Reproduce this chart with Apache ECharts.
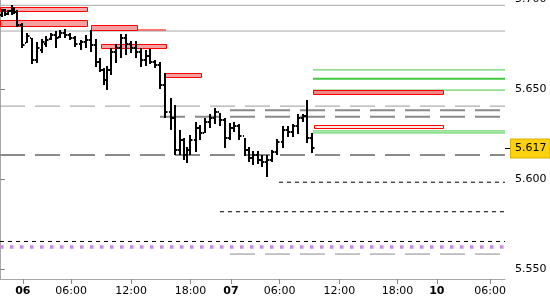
<!DOCTYPE html>
<html><head><meta charset="utf-8">
<script src="https://cdn.jsdelivr.net/npm/echarts@6/dist/echarts.min.js"></script>
<style>html,body{margin:0;padding:0;background:#fff}#c{width:550px;height:300px}</style>
</head><body><div id="c"></div>
<script>
// time in half-hour slots from chart start
const barTime = [0.3,1.0,1.6,2.3,2.8,3.4,4.4,5.4,6.4,7.4,8.4,9.2,10.2,11.2,12.0,13.0,14.0,15.0,16.2,17.2,18.2,19.2,19.9,20.7,21.4,22.2,23.2,24.2,25.2,26.2,27.2,28.2,29.2,30.0,31.0,32.0,33.0,34.2,35.0,36.0,36.8,37.4,38.0,39.1,40.0,41.0,42.0,43.0,44.0,44.9,45.9,46.8,47.7,48.9,49.7,50.6,51.6,52.4,53.4,54.4,55.4,56.6,57.6,58.6,59.6,60.5,61.4,62.4];
const barOpen = [5.6911,5.6939,5.6917,5.6933,5.6950,5.6928,5.6856,5.6756,5.6783,5.6661,5.6717,5.6750,5.6778,5.6800,5.6789,5.6811,5.6800,5.6783,5.6750,5.6761,5.6772,5.6744,5.6650,5.6606,5.6550,5.6606,5.6706,5.6728,5.6783,5.6750,5.6728,5.6706,5.6661,5.6683,5.6650,5.6633,5.6522,5.6372,5.6339,5.6161,5.6217,5.6133,5.6161,5.6217,5.6283,5.6256,5.6317,5.6339,5.6372,5.6328,5.6228,5.6283,5.6294,5.6239,5.6161,5.6117,5.6133,5.6106,5.6094,5.6106,5.6150,5.6206,5.6272,5.6261,5.6294,5.6339,5.6350,5.6228];
const barHigh = [5.6944,5.6944,5.6939,5.6967,5.6950,5.6939,5.6867,5.6811,5.6783,5.6761,5.6778,5.6794,5.6811,5.6822,5.6828,5.6833,5.6811,5.6794,5.6772,5.6800,5.6828,5.6778,5.6672,5.6617,5.6628,5.6728,5.6750,5.6806,5.6806,5.6767,5.6767,5.6728,5.6717,5.6722,5.6661,5.6650,5.6589,5.6450,5.6411,5.6272,5.6228,5.6178,5.6244,5.6317,5.6300,5.6339,5.6361,5.6394,5.6367,5.6339,5.6311,5.6317,5.6306,5.6228,5.6178,5.6156,5.6156,5.6133,5.6133,5.6161,5.6222,5.6294,5.6294,5.6306,5.6361,5.6361,5.6439,5.6256];
const barLow = [5.6900,5.6906,5.6911,5.6911,5.6917,5.6844,5.6728,5.6756,5.6639,5.6644,5.6700,5.6733,5.6772,5.6728,5.6783,5.6783,5.6772,5.6733,5.6717,5.6728,5.6706,5.6622,5.6594,5.6522,5.6494,5.6578,5.6644,5.6672,5.6689,5.6700,5.6672,5.6622,5.6628,5.6639,5.6617,5.6500,5.6339,5.6272,5.6133,5.6133,5.6106,5.6089,5.6133,5.6150,5.6217,5.6256,5.6283,5.6306,5.6294,5.6172,5.6217,5.6261,5.6217,5.6128,5.6094,5.6078,5.6083,5.6067,5.6011,5.6094,5.6133,5.6172,5.6233,5.6233,5.6250,5.6317,5.6200,5.6144];
const barClose = [5.6939,5.6917,5.6933,5.6950,5.6928,5.6856,5.6744,5.6794,5.6661,5.6728,5.6761,5.6772,5.6800,5.6783,5.6811,5.6800,5.6783,5.6750,5.6761,5.6772,5.6744,5.6650,5.6606,5.6550,5.6606,5.6706,5.6728,5.6783,5.6750,5.6728,5.6706,5.6661,5.6683,5.6650,5.6633,5.6522,5.6372,5.6339,5.6161,5.6217,5.6133,5.6161,5.6217,5.6283,5.6256,5.6317,5.6339,5.6372,5.6328,5.6228,5.6283,5.6294,5.6239,5.6161,5.6117,5.6133,5.6106,5.6094,5.6106,5.6150,5.6206,5.6272,5.6261,5.6294,5.6339,5.6350,5.6228,5.6170];

const timeTicks = [4.56,14.24,26.24,38.1,46.18,55.92,67.86,79.5,87.36,98.04];
const timeLabels = ['06','06:00','12:00','18:00','07','06:00','12:00','18:00','10','06:00'];
const dayLabels = ['06','07','10'];
const priceTicks = [5.55,5.6,5.65,5.7];
const lastPrice = 5.617;

// [start, end, upper, lower]
const redZones = [
  [0,17.4,5.6956,5.6933],
  [0,17.4,5.6881,5.6850],
  [18.2,27.4,5.6856,5.6828],
  [20.2,33.2,5.6750,5.6728],
  [33.0,40.2,5.6591,5.6568],
  [62.6,88.6,5.6494,5.6470],
  [62.8,88.6,5.6298,5.6279]
];
// [start, end, price]
const redLevels = [[27.4,33.2,5.6828]];
const greenLevels = [[62.6,101,5.6606],[62.6,101,5.6557],[62.6,101,5.6494],[62.6,101,5.6267],[62.6,101,5.6256]];
const graySolidLevels = [[0,101,5.6965],[0,101,5.6822]];
const grayDashLevels = [[0,101,5.6405],[46,101,5.6382],[32,101,5.6346],[0,101,5.6133],[46,101,5.5583]];
const blackDashLevels = [[55.8,101,5.5982],[44,101,5.5818],[0,101,5.5653]];
const purpleLevels = [[0,101,5.5622]];

// styles
const redFills = ['#f7a8a8','#f4a0a0','#f4a0a0','#f4a0a0','#f4a0a0','#f08888','#fde8e8'];
const greenWidths = [1,2,1,1,1];
const grayDashWidths = [1,2,2,2,1];
const grayDashColors = ['#999','#8a8a8a','#8a8a8a','#8a8a8a','#8a8a8a'];

const series = [];
function levelSeries(levels, styleFn, z) {
  levels.forEach((lv, i) => {
    series.push({
      type: 'line', silent: true, symbol: 'none', z: z, animation: false,
      data: [[lv[0], lv[2]], [lv[1], lv[2]]],
      lineStyle: styleFn(i)
    });
  });
}
levelSeries(graySolidLevels, () => ({color:'#a8a8a8', width:1}), 1);
levelSeries(grayDashLevels, i => ({color:grayDashColors[i], width:grayDashWidths[i], type:[25,10]}), 1);
levelSeries(blackDashLevels, () => ({color:'#000', width:1, type:[4,4]}), 1);
levelSeries(purpleLevels, () => ({color:'#c48ae6', width:3.5, type:[3.5,6.5], cap:'butt'}), 1);
levelSeries(greenLevels, i => ({color:'#3fc83f', width:greenWidths[i]}), 2);
levelSeries(redLevels, () => ({color:'#ff0000', width:1}), 2);

series.push({
  type: 'custom', z: 3, silent: true, animation: false,
  data: redZones.map((r, i) => [r[0], r[1], r[2], r[3], i]),
  renderItem: (params, api) => {
    const p0 = api.coord([api.value(0), api.value(2)]);
    const p1 = api.coord([api.value(1), api.value(3)]);
    const idx = api.value(4);
    return {type:'rect', shape:{x:Math.round(p0[0])+0.5, y:Math.round(p0[1])+0.5, width:Math.round(p1[0]-p0[0]), height:Math.max(2, Math.round(p1[1]-p0[1]))},
      style:{fill:redFills[idx], stroke:'#ff0000', lineWidth:1}};
  }
});

series.push({
  type: 'custom', z: 4, silent: true, animation: false,
  data: barTime.map((t, i) => [t, barOpen[i], barHigh[i], barLow[i], barClose[i]]),
  dimensions: ['t','o','h','l','c'],
  encode: {x: 0, y: [1,2,3,4]},
  renderItem: (params, api) => {
    const t = api.value(0);
    const o = api.coord([t, api.value(1)]);
    const h = api.coord([t, api.value(2)]);
    const l = api.coord([t, api.value(3)]);
    const c = api.coord([t, api.value(4)]);
    const x = Math.round(o[0]);
    return {type:'group', children:[
      {type:'rect', shape:{x:x-1, y:Math.round(h[1]), width:2, height:Math.max(2, Math.round(l[1]-h[1]))}, style:{fill:'#000'}},
      {type:'rect', shape:{x:x-2, y:Math.round(o[1])-1, width:1, height:2}, style:{fill:'#000'}},
      {type:'rect', shape:{x:x+1, y:Math.round(c[1])-1, width:1.5, height:2}, style:{fill:'#000'}}
    ]};
  }
});

const chart = echarts.init(document.getElementById('c'), null, {renderer:'canvas'});
const font = 'DejaVu Sans';
chart.setOption({
  animation: false,
  backgroundColor: '#fff',
  grid: {left: 0, right: 45, top: -1, height: 280, containLabel: false, outerBoundsMode: 'none'},
  xAxis: {
    type: 'value', min: 0, max: 101,
    axisLine: {show: true, lineStyle: {color: '#a8a8a8'}},
    axisTick: {show: true, customValues: timeTicks, length: 5, lineStyle: {color: '#888'}},
    axisLabel: {
      customValues: timeTicks, margin: 7, fontFamily: font, fontSize: 11, color: '#000',
      formatter: (v) => {
        let best = 0;
        timeTicks.forEach((tv, i) => { if (Math.abs(tv - v) < Math.abs(timeTicks[best] - v)) best = i; });
        const s = timeLabels[best];
        return dayLabels.includes(s) && s.indexOf(':') < 0 ? '{b|' + s + '}' : s;
      },
      rich: {b: {fontWeight: 'bold', fontFamily: font, fontSize: 11, color: '#000'}}
    },
    splitLine: {show: false}
  },
  yAxis: [{
    type: 'value', position: 'right', min: 5.54444, max: 5.7,
    axisLine: {show: true, lineStyle: {color: '#a8a8a8'}},
    axisTick: {show: true, customValues: priceTicks, length: 5, lineStyle: {color: '#888'}},
    axisLabel: {customValues: priceTicks, margin: 10, fontFamily: font, fontSize: 11, color: '#000',
      showMaxLabel: true, showMinLabel: true, formatter: v => v.toFixed(3)},
    splitLine: {show: false}
  }, {
    type: 'value', position: 'right', min: 5.54444, max: 5.7,
    axisLine: {show: false},
    axisTick: {show: true, customValues: [lastPrice], length: 5, lineStyle: {color: '#000'}},
    axisLabel: {customValues: [lastPrice], margin: 6, fontFamily: font, fontSize: 11, color: '#000',
      formatter: v => v.toFixed(3), backgroundColor: '#fcd20e', borderColor: '#d9b300', borderWidth: 1,
      padding: [4, 3, 3, 4]},
    splitLine: {show: false}
  }],
  series: series
});
</script></body></html>
